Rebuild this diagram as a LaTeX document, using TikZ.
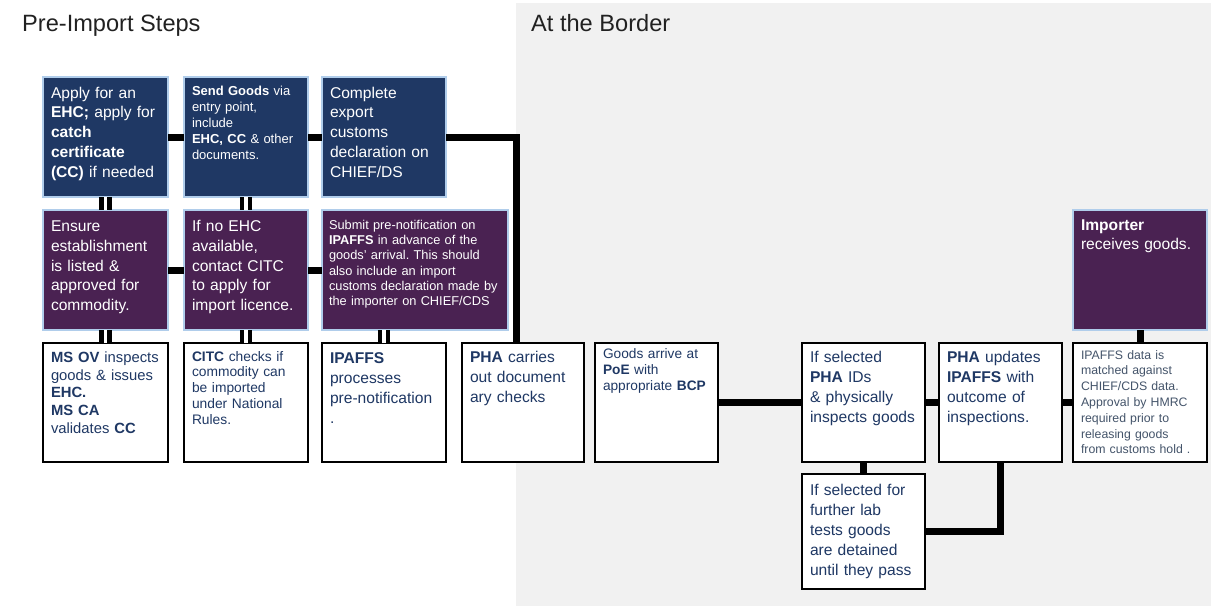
\documentclass[tikz,border=0pt]{standalone}
\usepackage{fontspec}
\setmainfont{Liberation Sans}
\usetikzlibrary{positioning}
\usepackage{xcolor}
\definecolor{navy}{HTML}{1F3864}
\definecolor{plum}{HTML}{4A2252}
\definecolor{paleblue}{HTML}{B0CDEB}
\definecolor{bordergray}{HTML}{F1F1F1}
\definecolor{inknavy}{HTML}{1F3864}
\definecolor{slate}{HTML}{44546A}
\frenchspacing

\begin{document}
\begin{tikzpicture}[x=1pt, y=-1pt,
		box/.style={rectangle, anchor=north west, outer sep=0pt, inner xsep=8pt, inner ysep=0pt, align=left, line width=2.5pt, text width=108pt, text height=19.5pt, text depth=100.5pt, font=\fontsize{15.6}{19.8}\selectfont},
		navybox/.style={box, fill=navy, draw=paleblue, text=white},
		plumbox/.style={box, fill=plum, draw=paleblue, text=white},
		whitebox/.style={box, fill=white, draw=black, text=inknavy},
		title/.style={anchor=base west, inner sep=0pt, text=black!87, font=\fontsize{23.6}{28}\selectfont},
		bar/.style={draw, line width=7pt},
		twin/.style={draw, line width=4.3pt, double=white, double distance=3.8pt}]
		
		\useasboundingbox (0,0) rectangle (1211,606);
		\fill[bordergray] (516,3) rectangle (1211,606);
		
		\node [title] (pretitle) at (22,31.7) {Pre-Import Steps};
		\node [title] (bordertitle) at (531,31.7) {At the Border};
		
		% Pre-import
		\node [navybox, text width=109pt, text height=21pt, text depth=99pt] (ehc) at (43,77) {Apply for an\\\textbf{EHC;} apply for\\\textbf{catch}\\\textbf{certificate}\\\textbf{(CC)} if needed};
		\node [navybox, right=16pt of ehc, text height=18pt, text depth=102pt, font=\fontsize{13}{16}\selectfont] (send) {\textbf{Send Goods} via\\entry point,\\include\\\textbf{EHC, CC} \& other\\documents.};
		\node [navybox, right=14pt of send, text height=21pt, text depth=99pt] (export) {Complete\\export\\customs\\declaration on\\CHIEF/DS};
		\node [plumbox, below=13pt of ehc, text width=109pt, text height=21.5pt, text depth=98.5pt] (estab) {Ensure\\establishment\\is listed \&\\approved for\\commodity.};
		\node [plumbox, below=13pt of send, text height=21.5pt, text depth=98.5pt] (licence) {If no EHC\\available,\\contact CITC\\to apply for\\import licence.};
		\node [plumbox, below=13pt of export.south west, anchor=north west, inner xsep=7pt, text width=172pt, text height=19.3pt, text depth=100.7pt, font=\fontsize{12.8}{15.3}\selectfont] (prenotif) {Submit pre-notification on\\\textbf{IPAFFS} in advance of the\\goods’ arrival. This should\\also include an import\\customs declaration made by\\the importer on CHIEF/CDS};
		\node [whitebox, below=13pt of estab, text width=109pt, text height=19.5pt, text depth=99.5pt, font=\fontsize{14.8}{17.7}\selectfont] (msov) {\textbf{MS OV} inspects\\goods \& issues\\\textbf{EHC.}\\\textbf{MS CA}\\validates \textbf{CC}};
		\node [whitebox, below=13pt of licence, text height=18pt, text depth=101pt, font=\fontsize{13.8}{15.8}\selectfont] (citc) {\textbf{CITC} checks if\\commodity can\\be imported\\under National\\Rules.};
		\node [whitebox, below=13pt of prenotif.south west, anchor=north west, text height=20.5pt, text depth=98.5pt, font=\fontsize{15.6}{20}\selectfont] (ipaffs) {\textbf{IPAFFS}\\processes\\pre-notification\\.};
		
		% At the border
		\node [whitebox, right=16pt of ipaffs, text width=106pt, text depth=99.5pt, font=\fontsize{15.6}{20}\selectfont] (docchk) {\textbf{PHA} carries\\out document\\ary checks};
		\node [whitebox, right=11pt of docchk, text width=107pt, text height=15.5pt, text depth=103.5pt, font=\fontsize{13.7}{16}\selectfont] (arrive) {Goods arrive at\\\textbf{PoE} with\\appropriate \textbf{BCP}};
		\node [whitebox, right=84pt of arrive, text width=107pt, text depth=99.5pt, font=\fontsize{15.6}{20}\selectfont] (idchk) {If selected\\\textbf{PHA} IDs\\\& physically\\inspects goods};
		\node [whitebox, right=14pt of idchk, text width=107pt, text depth=99.5pt, font=\fontsize{15.6}{20}\selectfont] (update) {\textbf{PHA} updates\\\textbf{IPAFFS} with\\outcome of\\inspections.};
		\node [whitebox, right=11pt of update, text width=118pt, text height=16pt, text depth=103pt, text=slate, font=\fontsize{12.3}{15.8}\selectfont] (match) {IPAFFS data is\\matched against\\CHIEF/CDS data.\\Approval by HMRC\\required prior to\\releasing goods\\from customs hold .};
		\node [whitebox, below=12pt of idchk, text width=107pt, text height=21pt, text depth=94pt, font=\fontsize{15.6}{20}\selectfont] (lab) {If selected for\\further lab\\tests goods\\are detained\\until they pass};
		\node [plumbox, above=13pt of match, text width=118pt, text height=20pt, text depth=100pt] (importer) {\textbf{Importer}\\receives goods.};
		
		% Links
		\path [bar] (ehc) -- (send);
		\path [bar] (send) -- (export);
		\path [bar] (estab) -- (licence);
		\path [bar] (licence) -- (prenotif);
		\path [twin] (ehc) -- (estab);
		\path [twin] (send) -- (licence);
		\path [twin] (estab) -- (msov);
		\path [twin] (licence) -- (citc);
		\path [twin] (ipaffs.north) -- (ipaffs.north |- prenotif.south);
		\path [bar] (export.east) -| ([xshift=-7pt]docchk.north);
		\path [bar] (arrive) -- (idchk);
		\path [bar] (idchk) -- (update);
		\path [bar] (update) -- (match);
		\path [bar] (idchk) -- (lab);
		\path [bar] (lab.east) -| (update.south);
		\path [bar] (importer) -- (match);
		
	\end{tikzpicture}
\end{document}
